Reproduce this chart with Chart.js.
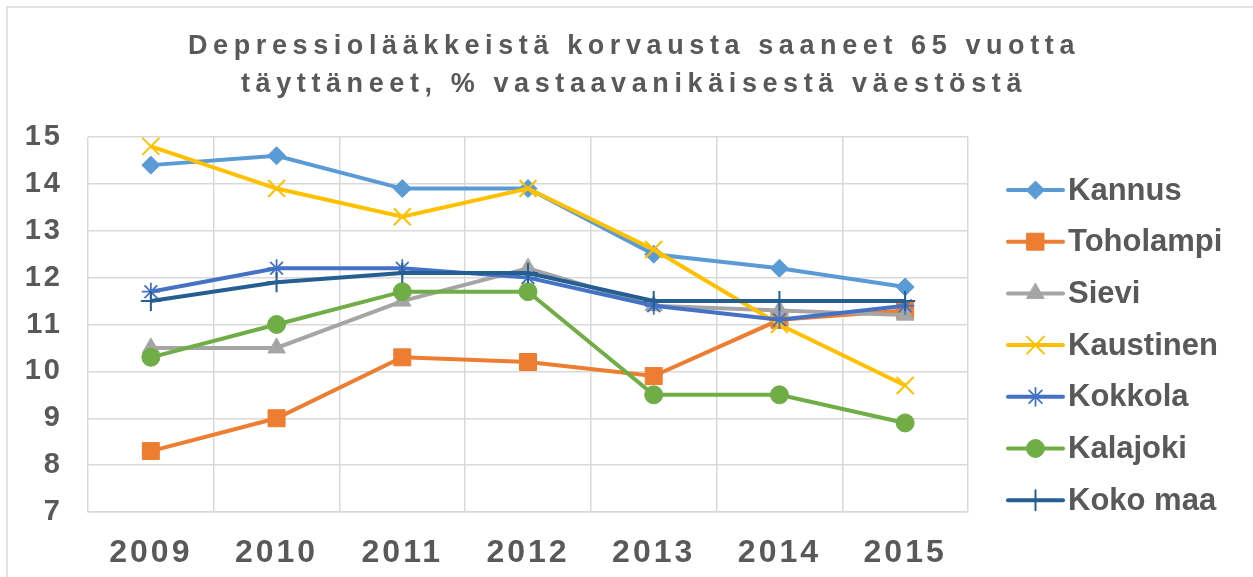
<!DOCTYPE html>
<html lang="fi">
<head>
    <meta charset="UTF-8">
    <title>Depressiolääkkeistä korvausta saaneet 65 vuotta täyttäneet</title>
    <style>
        body {
            margin: 0;
            background-color: #fff;
        }
        #wrap {
            width: 1253px;
            height: 577px;
        }
    </style>
    <script src="https://cdn.jsdelivr.net/npm/chart.js"></script>
</head>
<body>
    <div id="wrap">
        <canvas id="chart" width="1253" height="577"></canvas>
    </div>

    <script>
        // Data
        const years = ['2009', '2010', '2011', '2012', '2013', '2014', '2015'];
        const yTicks = [7, 8, 9, 10, 11, 12, 13, 14, 15];
        const titleLines = ['Depressiolääkkeistä korvausta saaneet 65 vuotta', 'täyttäneet, % vastaavanikäisestä väestöstä'];

        const kannus = [14.4, 14.6, 13.9, 13.9, 12.5, 12.2, 11.8];
        const toholampi = [8.3, 9.0, 10.3, 10.2, 9.9, 11.1, 11.3];
        const sievi = [10.5, 10.5, 11.5, 12.2, 11.4, 11.3, 11.2];
        const kaustinen = [14.8, 13.9, 13.3, 13.9, 12.6, 11.0, 9.7];
        const kokkola = [11.7, 12.2, 12.2, 12.0, 11.4, 11.1, 11.4];
        const kalajoki = [10.3, 11.0, 11.7, 11.7, 9.5, 9.5, 8.9];
        const kokoMaa = [11.5, 11.9, 12.1, 12.1, 11.5, 11.5, 11.5];

        const textColor = '#595959';
        const gridColor = '#d9d9d9';
        const fontFamily = '"Liberation Sans", Arial, sans-serif';

        const series = [
            { label: 'Kannus', data: kannus, color: '#5b9bd5', style: 'rectRot', radius: 9, bw: 1 },
            { label: 'Toholampi', data: toholampi, color: '#ed7d31', style: 'rect', radius: 12, bw: 1 },
            { label: 'Sievi', data: sievi, color: '#a5a5a5', style: 'triangle', radius: 10, bw: 1 },
            { label: 'Kaustinen', data: kaustinen, color: '#ffc000', style: 'crossRot', radius: 12, bw: 2 },
            { label: 'Kokkola', data: kokkola, color: '#4472c4', style: 'star', radius: 9, bw: 1.8 },
            { label: 'Kalajoki', data: kalajoki, color: '#70ad47', style: 'circle', radius: 9, bw: 1 },
            { label: 'Koko maa', data: kokoMaa, color: '#255e91', style: 'cross', radius: 10, bw: 2 }
        ];

        const datasets = series.map((s, i) => ({
            label: s.label,
            data: s.data,
            borderColor: s.color,
            backgroundColor: s.color,
            borderWidth: 4,
            pointStyle: s.style,
            pointRadius: s.radius,
            pointBorderWidth: s.bw,
            pointBorderColor: s.color,
            pointBackgroundColor: s.color,
            tension: 0,
            order: series.length - i
        }));

        // Title, legend and outer frame drawn straight on the canvas
        const decorations = {
            id: 'decorations',
            beforeDraw(chart) {
                const ctx = chart.ctx;
                ctx.save();
                ctx.strokeStyle = gridColor;
                ctx.lineWidth = 1.5;
                ctx.beginPath();
                ctx.moveTo(7, 600);
                ctx.lineTo(7, 7);
                ctx.lineTo(1300, 7);
                ctx.stroke();
                ctx.restore();
                ctx.letterSpacing = '3px';
            },
            afterDraw(chart) {
                const ctx = chart.ctx;
                ctx.save();
                ctx.letterSpacing = '5.6px';
                ctx.fillStyle = textColor;
                ctx.font = 'bold 27px ' + fontFamily;
                ctx.textAlign = 'center';
                ctx.textBaseline = 'middle';
                ctx.fillText(titleLines[0], 634, 47);
                ctx.fillText(titleLines[1], 634, 85);

                ctx.letterSpacing = '0px';
                ctx.font = 'bold 31px ' + fontFamily;
                ctx.textAlign = 'left';
                series.forEach((s, i) => {
                    const y = 190 + i * 51.7;
                    ctx.strokeStyle = s.color;
                    ctx.lineWidth = 4;
                    ctx.lineCap = 'round';
                    ctx.beginPath();
                    ctx.moveTo(1008, y);
                    ctx.lineTo(1063, y);
                    ctx.stroke();
                    ctx.fillStyle = s.color;
                    ctx.strokeStyle = s.color;
                    ctx.lineWidth = s.bw;
                    Chart.helpers.drawPoint(ctx, { pointStyle: s.style, radius: s.radius, rotation: 0, borderWidth: s.bw }, 1035.5, y);
                    ctx.fillStyle = textColor;
                    ctx.fillText(s.label, 1068, y + 1);
                });
                ctx.restore();
            }
        };

        new Chart(document.getElementById('chart'), {
            type: 'line',
            data: { labels: years, datasets: datasets },
            plugins: [decorations],
            options: {
                responsive: false,
                animation: false,
                layout: { padding: { left: 0, top: 137, right: 285, bottom: 0 } },
                plugins: {
                    legend: { display: false },
                    title: { display: false },
                    tooltip: { enabled: false }
                },
                scales: {
                    x: {
                        offset: true,
                        grid: { offset: true, color: gridColor, lineWidth: 1.5, drawTicks: false },
                        border: { color: gridColor, width: 1.5 },
                        ticks: {
                            color: textColor,
                            padding: 22,
                            font: { family: fontFamily, size: 32, weight: 'bold' }
                        },
                        afterFit(scale) { scale.height = 65; }
                    },
                    y: {
                        min: 7,
                        max: 15,
                        afterBuildTicks(scale) { scale.ticks = yTicks.map(v => ({ value: v })); },
                        grid: { color: gridColor, lineWidth: 1.5, drawTicks: false },
                        border: { display: false },
                        ticks: {
                            color: textColor,
                            padding: 25,
                            font: { family: fontFamily, size: 29, weight: 'bold' }
                        },
                        afterFit(scale) { scale.width = 88; }
                    }
                }
            }
        });
    </script>
</body>
</html>
